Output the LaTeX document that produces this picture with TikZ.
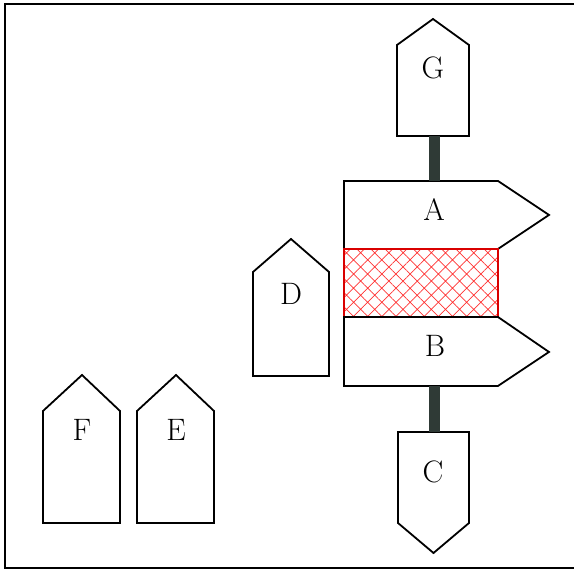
\documentclass[tikz,border=0pt]{standalone}
\usepackage{xcolor}
\usetikzlibrary{patterns.meta}
\definecolor{stemcol}{HTML}{2F3A36}

\begin{document}
\begin{tikzpicture}[
  x=0.5pt, y=-0.5pt,
  plate/.style={draw, line width=0.9pt, fill=white, line join=miter},
  lbl/.style={font=\fontsize{15.5}{18}\selectfont, inner sep=0pt},
  stem/.style={draw=stemcol, line width=5.5pt},
  mesh/.style={draw=red!85!black, line width=0.7pt,
               pattern={Hatch[angle=45, distance=5pt, line width=0.35pt]},
               pattern color=red!80}
]
  \useasboundingbox (0,0) rectangle (574,571);

  % Frame (open on the right)
  \draw[line width=1pt] (574,4) -- (5,4) -- (5,568) -- (574,568);

  % Top plate G
  \draw[plate] (397,136) -- (397,45) -- (433,19) -- (469,45) -- (469,136) -- cycle;
  \node[lbl] (g) at (433,68) {G};
  \coordinate (g-foot) at (434,136);

  % Plate A, pointing right
  \draw[plate] (344,181) -- (498,181) -- (549,215) -- (498,249) -- (344,249) -- cycle;
  \node[lbl] (a) at (434,210) {A};
  \coordinate (a-head) at (434,181);

  % Hatched layer between A and B
  \draw[mesh] (344,249) rectangle (498,317);

  % Plate B, pointing right
  \draw[plate] (344,317) -- (498,317) -- (549,352) -- (498,386) -- (344,386) -- cycle;
  \node[lbl] (b) at (435,346) {B};
  \coordinate (b-foot) at (434,386);

  % Bottom plate C, pointing down
  \draw[plate] (398,432) -- (469,432) -- (469,523) -- (433.5,553) -- (398,523) -- cycle;
  \node[lbl] (c) at (433,472) {C};
  \coordinate (c-head) at (434,432);

  % Stems
  \draw[stem] (g-foot) -- (a-head);
  \draw[stem] (b-foot) -- (c-head);

  % Loose plates D, E, F
  \draw[plate] (253,376) -- (253,272) -- (291,239) -- (329,272) -- (329,376) -- cycle;
  \node[lbl] (d) at (291,294) {D};

  \draw[plate] (137,523) -- (137,411) -- (176,375) -- (214,411) -- (214,523) -- cycle;
  \node[lbl] (e) at (176,430) {E};

  \draw[plate] (43,523) -- (43,411) -- (82,375) -- (120,411) -- (120,523) -- cycle;
  \node[lbl] (f) at (82,430) {F};
\end{tikzpicture}
\end{document}
